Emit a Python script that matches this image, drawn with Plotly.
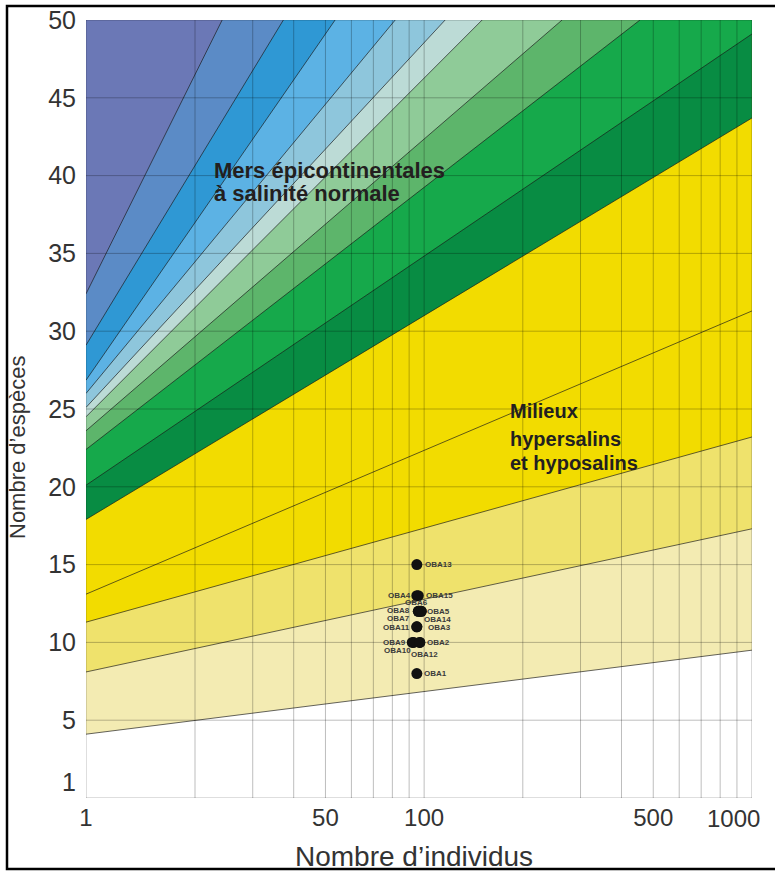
import math
import plotly.graph_objects as go

# ---- axis extents -------------------------------------------------------
X_LEFT = 9.3          # left edge of the logarithmic individuals axis (labelled "1")
X_RIGHT = 1000
S_MIN, S_MAX = 0, 50

X_TICK_VALS = [X_LEFT, 50, 100, 500]
X_TICK_TEXT = ["1", "50", "100", "500"]
X_END_LABEL = "1000"  # written flush against the right edge
Y_TICK_VALS = [1, 5, 10, 15, 20, 25, 30, 35, 40, 45, 50]
Y_TICK_TEXT = ["1", "5", "10", "15", "20", "25", "30", "35", "40", "45", "50"]
X_GRID = [20, 30, 40, 50, 60, 70, 80, 90, 100, 200, 300, 400, 500, 600, 700, 800, 900]
Y_GRID = [5, 10, 15, 20, 25, 30, 35, 40, 45]

# ---- diversity bands ----------------------------------------------------
# each boundary runs from the left edge (species count) to its end point
BOUNDARY_S_LEFT = [32.4, 29.1, 26.85, 26.0, 25.1, 24.5, 23.6, 22.4, 20.1, 17.9,
                   13.1, 11.3, 8.1, 4.1]
BOUNDARY_N_END = [24.2, 37.2, 53.5, 81.6, 115.9, 150.3, 263.5, 455.5, 1000, 1000,
                  1000, 1000, 1000, 1000]
BOUNDARY_S_END = [50, 50, 50, 50, 50, 50, 50, 50, 49.1, 43.7,
                  31.3, 23.2, 17.3, 9.5]

# colour of the band lying above each boundary, then the lowest band
BAND_COLORS = ["#6b78b6", "#5b8bc6", "#2f98d4", "#5cb2e4", "#8ec6dc", "#bcdbd6",
               "#8fcb98", "#5db56b", "#16a94b", "#088c43", "#f2dc00", "#f2dc00",
               "#efe26c", "#f3ebb2", "#ffffff"]

# ---- samples --------------------------------------------------------------
SAMPLES = ["OBA1", "OBA2", "OBA3", "OBA4", "OBA5", "OBA6", "OBA7", "OBA8",
           "OBA9", "OBA10", "OBA11", "OBA12", "OBA13", "OBA14", "OBA15"]
SAMPLE_N = [95, 97, 95, 95, 98, 96, 96, 97, 92, 93, 95, 97, 95, 98, 96]
SAMPLE_S = [8, 10, 11, 13, 12, 12, 12, 12, 10, 10, 11, 10, 15, 12, 13]
# label placement: (xanchor, xshift, yshift) in pixels
LABEL_POS = {
    "OBA1": ("left", 6, 0), "OBA2": ("left", 6, 0), "OBA3": ("left", 10, -1),
    "OBA4": ("right", -5, 0), "OBA5": ("left", 5, 0), "OBA6": ("center", -2, 9),
    "OBA7": ("right", -7, -7), "OBA8": ("right", -9, 1), "OBA9": ("right", -5, 0),
    "OBA10": ("right", -2, -8), "OBA11": ("right", -6, -1), "OBA12": ("center", 5, -12),
    "OBA13": ("left", 7, 0), "OBA14": ("left", 2, -8), "OBA15": ("left", 7, 0),
}

# zone names: text, individuals, species, font size
ZONE_TEXT = [("Mers épicontinentales", 22.6, 40.3, 22), ("à salinité normale", 22.6, 38.85, 22),
             ("Milieux", 180, 24.85, 20), ("hypersalins", 180, 23.1, 20),
             ("et hyposalins", 180, 21.5, 20)]

FONT = "Liberation Sans, Arial, sans-serif"

fig = go.Figure()

# band fills: paint the region above each boundary, lowest first
for i in range(len(BOUNDARY_S_LEFT) - 1, -1, -1):
    xs = [X_LEFT, BOUNDARY_N_END[i]]
    ys = [BOUNDARY_S_LEFT[i], BOUNDARY_S_END[i]]
    if BOUNDARY_N_END[i] >= X_RIGHT:
        xs.append(X_RIGHT)
        ys.append(S_MAX)
    xs.append(X_LEFT)
    ys.append(S_MAX)
    fig.add_trace(go.Scatter(x=xs, y=ys, mode="lines", fill="toself",
                             fillcolor=BAND_COLORS[i], line=dict(width=0),
                             hoverinfo="skip", showlegend=False))

# boundary lines
bx, by = [], []
for i in range(len(BOUNDARY_S_LEFT)):
    bx += [X_LEFT, BOUNDARY_N_END[i], None]
    by += [BOUNDARY_S_LEFT[i], BOUNDARY_S_END[i], None]
fig.add_trace(go.Scatter(x=bx, y=by, mode="lines",
                         line=dict(color="rgba(25,25,25,0.75)", width=0.9),
                         hoverinfo="skip", showlegend=False))

# grid drawn over the bands
gx, gy = [], []
for v in [X_LEFT] + X_GRID + [X_RIGHT]:
    gx += [v, v, None]
    gy += [S_MIN, S_MAX, None]
for v in [S_MIN] + Y_GRID + [S_MAX]:
    gx += [X_LEFT, X_RIGHT, None]
    gy += [v, v, None]
fig.add_trace(go.Scatter(x=gx, y=gy, mode="lines",
                         line=dict(color="rgba(0,0,0,0.26)", width=1),
                         hoverinfo="skip", showlegend=False))

# samples
fig.add_trace(go.Scatter(x=SAMPLE_N, y=SAMPLE_S, mode="markers",
                         marker=dict(color="#111111", size=11),
                         text=SAMPLES, hoverinfo="text", showlegend=False))

# annotations on a log axis take log10 positions
for name, n, s in zip(SAMPLES, SAMPLE_N, SAMPLE_S):
    anchor, dx, dy = LABEL_POS[name]
    fig.add_annotation(x=math.log10(n), y=s, text=name, showarrow=False, xanchor=anchor,
                       yanchor="middle", xshift=dx, yshift=dy, borderpad=0,
                       font=dict(family=FONT, size=8, color="#3a3a3a", weight="bold"))

for txt, n, s, size in ZONE_TEXT:
    fig.add_annotation(x=math.log10(n), y=s, text=txt, showarrow=False, xanchor="left",
                       yanchor="middle",
                       font=dict(family=FONT, size=size, color="#231f20", weight="bold"))

# last x tick label, kept inside the figure
fig.add_annotation(x=math.log10(X_RIGHT), y=(798 - 818) / 778, xref="x", yref="paper",
                   text=X_END_LABEL, showarrow=False, xanchor="right", yanchor="middle",
                   xshift=10, font=dict(family=FONT, size=24, color="#333333"))

# axis titles
fig.add_annotation(xref="paper", yref="paper", x=(17 - 86) / 666, y=(798 - 448) / 778,
                   text="Nombre d’espèces", textangle=-90, showarrow=False,
                   xanchor="center", yanchor="middle",
                   font=dict(family=FONT, size=22, color="#333333"))
fig.add_annotation(xref="paper", yref="paper", x=(414 - 86) / 666, y=(798 - 856) / 778,
                   text="Nombre d’individus", showarrow=False,
                   xanchor="center", yanchor="middle",
                   font=dict(family=FONT, size=28, color="#333333"))

# outer frame
fig.add_shape(type="rect", xref="paper", yref="paper",
              x0=(7 - 86) / 666, x1=(778 - 86) / 666,
              y0=(798 - 869) / 778, y1=(798 - 6) / 778,
              line=dict(color="#000000", width=2.5), layer="above")

fig.update_layout(
    width=775, height=873,
    margin=dict(l=86, r=23, t=20, b=75, autoexpand=False),
    paper_bgcolor="white", plot_bgcolor="white",
    showlegend=False,
    xaxis=dict(type="log", range=[0.96848, 3.0002], tickvals=X_TICK_VALS, ticktext=X_TICK_TEXT,
               showgrid=False, zeroline=False, showline=False, ticks="",
               automargin=False, ticklabelstandoff=3,
               tickfont=dict(family=FONT, size=24, color="#333333")),
    yaxis=dict(range=[S_MIN, S_MAX], tickvals=Y_TICK_VALS, ticktext=Y_TICK_TEXT,
               showgrid=False, zeroline=False, showline=False, ticks="",
               automargin=False, ticklabelstandoff=9,
               tickfont=dict(family=FONT, size=25, color="#333333")),
)

fig.write_html("out.html")
